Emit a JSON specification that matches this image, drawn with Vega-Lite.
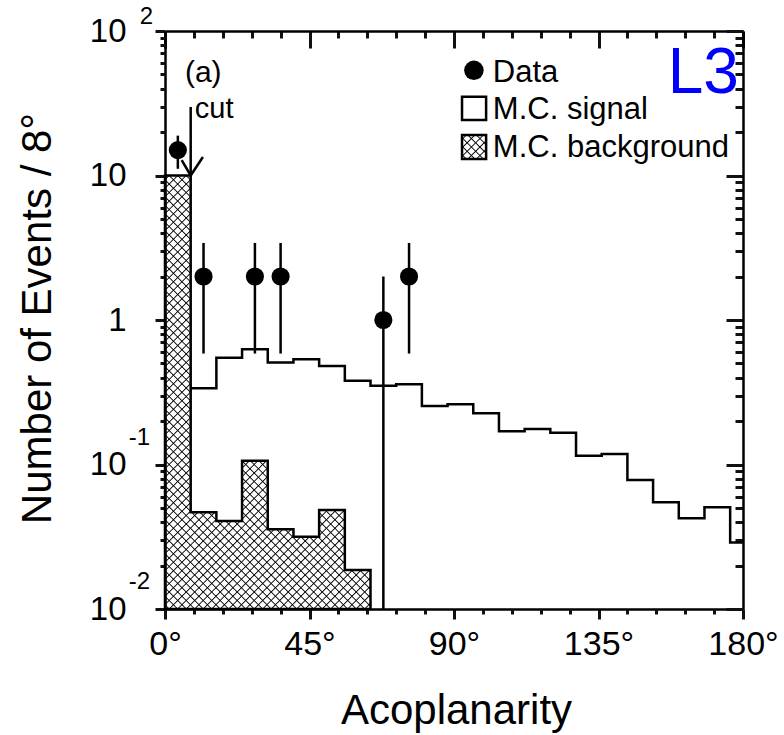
{
"$schema":"https://vega.github.io/schema/vega-lite/v6.json",
"width":578,"height":578,
"autosize":{"type":"none"},
"padding":{"left":165,"top":31,"right":41,"bottom":126},
"background":"white",
"config":{"font":"Liberation Sans","view":{"stroke":null},"axis":{"grid":false,"zindex":1,"domainColor":"black","labelColor":"black","titleColor":"black","domainWidth":2.5,"tickWidth":3,"titleFontWeight":"normal"}},
"datasets":{
"bg":[{"a":0,"n":10},{"a":8,"n":0.0467},{"a":16,"n":0.0406},{"a":24,"n":0.106},{"a":32,"n":0.0356},{"a":40,"n":0.0316},{"a":48,"n":0.0484},{"a":56,"n":0.0186},{"a":64,"n":0.0186}],
"sig":[{"a":8,"n":0.337},{"a":16,"n":0.548},{"a":24,"n":0.627},{"a":32,"n":0.509},{"a":40,"n":0.535},{"a":48,"n":0.481},{"a":56,"n":0.38},{"a":64,"n":0.351},{"a":72,"n":0.359},{"a":80,"n":0.254},{"a":88,"n":0.261},{"a":96,"n":0.226},{"a":104,"n":0.17},{"a":112,"n":0.176},{"a":120,"n":0.166},{"a":128,"n":0.115},{"a":136,"n":0.118},{"a":144,"n":0.078},{"a":152,"n":0.0547},{"a":160,"n":0.0424},{"a":168,"n":0.0506},{"a":176,"n":0.0288},{"a":180,"n":0.0288}],
"obs":[{"a":4,"n":15,"lo":11.13,"hi":18.87},{"a":12,"n":2,"lo":0.586,"hi":3.414},{"a":28,"n":2,"lo":0.586,"hi":3.414},{"a":36,"n":2,"lo":0.586,"hi":3.414},{"a":68,"n":1,"lo":0.01,"hi":2},{"a":76,"n":2,"lo":0.586,"hi":3.414}]
},
"resolve":{"axis":{"x":"independent","y":"independent"}},
"layer":[
{"data":{"name":"bg"},
 "mark":{"type":"area","interpolate":"step-after","opacity":1,"fill":{"gradient":"linear","x1":0,"y1":0,"x2":0.57058,"y2":1.20357,"stops":[
{"offset":0.0046,"color":"#0000"},{"offset":0.0066,"color":"#000"},{"offset":0.0086,"color":"#0000"},
{"offset":0.0179,"color":"#0000"},{"offset":0.0199,"color":"#000"},{"offset":0.0219,"color":"#0000"},
{"offset":0.0312,"color":"#0000"},{"offset":0.0332,"color":"#000"},{"offset":0.0352,"color":"#0000"},
{"offset":0.0445,"color":"#0000"},{"offset":0.0465,"color":"#000"},{"offset":0.0485,"color":"#0000"},
{"offset":0.0578,"color":"#0000"},{"offset":0.0598,"color":"#000"},{"offset":0.0618,"color":"#0000"},
{"offset":0.0711,"color":"#0000"},{"offset":0.0731,"color":"#000"},{"offset":0.0751,"color":"#0000"},
{"offset":0.0844,"color":"#0000"},{"offset":0.0864,"color":"#000"},{"offset":0.0884,"color":"#0000"},
{"offset":0.0977,"color":"#0000"},{"offset":0.0997,"color":"#000"},{"offset":0.1017,"color":"#0000"},
{"offset":0.1110,"color":"#0000"},{"offset":0.1130,"color":"#000"},{"offset":0.1150,"color":"#0000"},
{"offset":0.1243,"color":"#0000"},{"offset":0.1263,"color":"#000"},{"offset":0.1283,"color":"#0000"},
{"offset":0.1376,"color":"#0000"},{"offset":0.1396,"color":"#000"},{"offset":0.1416,"color":"#0000"},
{"offset":0.1509,"color":"#0000"},{"offset":0.1529,"color":"#000"},{"offset":0.1549,"color":"#0000"},
{"offset":0.1642,"color":"#0000"},{"offset":0.1662,"color":"#000"},{"offset":0.1682,"color":"#0000"},
{"offset":0.1775,"color":"#0000"},{"offset":0.1795,"color":"#000"},{"offset":0.1815,"color":"#0000"},
{"offset":0.1908,"color":"#0000"},{"offset":0.1928,"color":"#000"},{"offset":0.1948,"color":"#0000"},
{"offset":0.2041,"color":"#0000"},{"offset":0.2061,"color":"#000"},{"offset":0.2081,"color":"#0000"},
{"offset":0.2174,"color":"#0000"},{"offset":0.2194,"color":"#000"},{"offset":0.2214,"color":"#0000"},
{"offset":0.2307,"color":"#0000"},{"offset":0.2327,"color":"#000"},{"offset":0.2347,"color":"#0000"},
{"offset":0.2440,"color":"#0000"},{"offset":0.2460,"color":"#000"},{"offset":0.2480,"color":"#0000"},
{"offset":0.2573,"color":"#0000"},{"offset":0.2593,"color":"#000"},{"offset":0.2613,"color":"#0000"},
{"offset":0.2706,"color":"#0000"},{"offset":0.2726,"color":"#000"},{"offset":0.2746,"color":"#0000"},
{"offset":0.2839,"color":"#0000"},{"offset":0.2859,"color":"#000"},{"offset":0.2879,"color":"#0000"},
{"offset":0.2972,"color":"#0000"},{"offset":0.2992,"color":"#000"},{"offset":0.3012,"color":"#0000"},
{"offset":0.3105,"color":"#0000"},{"offset":0.3125,"color":"#000"},{"offset":0.3145,"color":"#0000"},
{"offset":0.3238,"color":"#0000"},{"offset":0.3258,"color":"#000"},{"offset":0.3278,"color":"#0000"},
{"offset":0.3371,"color":"#0000"},{"offset":0.3391,"color":"#000"},{"offset":0.3411,"color":"#0000"},
{"offset":0.3504,"color":"#0000"},{"offset":0.3524,"color":"#000"},{"offset":0.3544,"color":"#0000"},
{"offset":0.3637,"color":"#0000"},{"offset":0.3657,"color":"#000"},{"offset":0.3677,"color":"#0000"},
{"offset":0.3770,"color":"#0000"},{"offset":0.3790,"color":"#000"},{"offset":0.3810,"color":"#0000"},
{"offset":0.3903,"color":"#0000"},{"offset":0.3923,"color":"#000"},{"offset":0.3943,"color":"#0000"},
{"offset":0.4036,"color":"#0000"},{"offset":0.4056,"color":"#000"},{"offset":0.4076,"color":"#0000"},
{"offset":0.4169,"color":"#0000"},{"offset":0.4189,"color":"#000"},{"offset":0.4209,"color":"#0000"},
{"offset":0.4302,"color":"#0000"},{"offset":0.4322,"color":"#000"},{"offset":0.4342,"color":"#0000"},
{"offset":0.4435,"color":"#0000"},{"offset":0.4455,"color":"#000"},{"offset":0.4475,"color":"#0000"},
{"offset":0.4568,"color":"#0000"},{"offset":0.4588,"color":"#000"},{"offset":0.4608,"color":"#0000"},
{"offset":0.4701,"color":"#0000"},{"offset":0.4721,"color":"#000"},{"offset":0.4741,"color":"#0000"},
{"offset":0.4834,"color":"#0000"},{"offset":0.4854,"color":"#000"},{"offset":0.4874,"color":"#0000"},
{"offset":0.4967,"color":"#0000"},{"offset":0.4987,"color":"#000"},{"offset":0.5007,"color":"#0000"},
{"offset":0.5100,"color":"#0000"},{"offset":0.5120,"color":"#000"},{"offset":0.5140,"color":"#0000"},
{"offset":0.5233,"color":"#0000"},{"offset":0.5253,"color":"#000"},{"offset":0.5273,"color":"#0000"},
{"offset":0.5366,"color":"#0000"},{"offset":0.5386,"color":"#000"},{"offset":0.5406,"color":"#0000"},
{"offset":0.5499,"color":"#0000"},{"offset":0.5519,"color":"#000"},{"offset":0.5539,"color":"#0000"},
{"offset":0.5632,"color":"#0000"},{"offset":0.5652,"color":"#000"},{"offset":0.5672,"color":"#0000"},
{"offset":0.5765,"color":"#0000"},{"offset":0.5785,"color":"#000"},{"offset":0.5805,"color":"#0000"},
{"offset":0.5898,"color":"#0000"},{"offset":0.5918,"color":"#000"},{"offset":0.5938,"color":"#0000"},
{"offset":0.6031,"color":"#0000"},{"offset":0.6051,"color":"#000"},{"offset":0.6071,"color":"#0000"},
{"offset":0.6164,"color":"#0000"},{"offset":0.6184,"color":"#000"},{"offset":0.6204,"color":"#0000"},
{"offset":0.6297,"color":"#0000"},{"offset":0.6317,"color":"#000"},{"offset":0.6337,"color":"#0000"},
{"offset":0.6430,"color":"#0000"},{"offset":0.6450,"color":"#000"},{"offset":0.6470,"color":"#0000"},
{"offset":0.6563,"color":"#0000"},{"offset":0.6583,"color":"#000"},{"offset":0.6603,"color":"#0000"},
{"offset":0.6696,"color":"#0000"},{"offset":0.6716,"color":"#000"},{"offset":0.6736,"color":"#0000"},
{"offset":0.6829,"color":"#0000"},{"offset":0.6849,"color":"#000"},{"offset":0.6869,"color":"#0000"},
{"offset":0.6962,"color":"#0000"},{"offset":0.6982,"color":"#000"},{"offset":0.7002,"color":"#0000"},
{"offset":0.7095,"color":"#0000"},{"offset":0.7115,"color":"#000"},{"offset":0.7135,"color":"#0000"},
{"offset":0.7228,"color":"#0000"},{"offset":0.7248,"color":"#000"},{"offset":0.7268,"color":"#0000"},
{"offset":0.7361,"color":"#0000"},{"offset":0.7381,"color":"#000"},{"offset":0.7401,"color":"#0000"},
{"offset":0.7494,"color":"#0000"},{"offset":0.7514,"color":"#000"},{"offset":0.7534,"color":"#0000"},
{"offset":0.7627,"color":"#0000"},{"offset":0.7647,"color":"#000"},{"offset":0.7667,"color":"#0000"},
{"offset":0.7760,"color":"#0000"},{"offset":0.7780,"color":"#000"},{"offset":0.7800,"color":"#0000"},
{"offset":0.7893,"color":"#0000"},{"offset":0.7913,"color":"#000"},{"offset":0.7933,"color":"#0000"},
{"offset":0.8026,"color":"#0000"},{"offset":0.8046,"color":"#000"},{"offset":0.8066,"color":"#0000"},
{"offset":0.8159,"color":"#0000"},{"offset":0.8179,"color":"#000"},{"offset":0.8199,"color":"#0000"},
{"offset":0.8292,"color":"#0000"},{"offset":0.8312,"color":"#000"},{"offset":0.8332,"color":"#0000"},
{"offset":0.8425,"color":"#0000"},{"offset":0.8445,"color":"#000"},{"offset":0.8465,"color":"#0000"},
{"offset":0.8558,"color":"#0000"},{"offset":0.8578,"color":"#000"},{"offset":0.8598,"color":"#0000"},
{"offset":0.8691,"color":"#0000"},{"offset":0.8711,"color":"#000"},{"offset":0.8731,"color":"#0000"},
{"offset":0.8824,"color":"#0000"},{"offset":0.8844,"color":"#000"},{"offset":0.8864,"color":"#0000"},
{"offset":0.8957,"color":"#0000"},{"offset":0.8977,"color":"#000"},{"offset":0.8997,"color":"#0000"},
{"offset":0.9090,"color":"#0000"},{"offset":0.9110,"color":"#000"},{"offset":0.9130,"color":"#0000"},
{"offset":0.9223,"color":"#0000"},{"offset":0.9243,"color":"#000"},{"offset":0.9263,"color":"#0000"},
{"offset":0.9356,"color":"#0000"},{"offset":0.9376,"color":"#000"},{"offset":0.9396,"color":"#0000"},
{"offset":0.9489,"color":"#0000"},{"offset":0.9509,"color":"#000"},{"offset":0.9529,"color":"#0000"},
{"offset":0.9622,"color":"#0000"},{"offset":0.9642,"color":"#000"},{"offset":0.9662,"color":"#0000"},
{"offset":0.9755,"color":"#0000"},{"offset":0.9775,"color":"#000"},{"offset":0.9795,"color":"#0000"},
{"offset":0.9888,"color":"#0000"},{"offset":0.9908,"color":"#000"},{"offset":0.9928,"color":"#0000"}]}},
 "encoding":{
  "x":{"field":"a","type":"quantitative","scale":{"domain":[0,180],"nice":false,"zero":false},
   "axis":{"orient":"bottom","values":[0,45,90,135,180],"labelExpr":"datum.value + '°'","ticks":true,"tickColor":"#111111","tickSize":10,"labelFontSize":34,"labelPadding":8,"labelFlush":false,"labelOverlap":false,"title":"Acoplanarity","titleFontSize":42,"titleBaseline":"alphabetic","titleAlign":"center","titleX":291,"titleY":114}},
  "y":{"field":"n","type":"quantitative","scale":{"type":"log","domain":[0.01,100],"nice":false},
   "axis":{"orient":"left","values":[0.01,0.1,1,10,100],"labelExpr":"datum.value==1 ? '1' : datum.value==10 ? '10' : datum.value==100 ? '10\u2009' : '10\u2009\u2009'","ticks":true,"tickColor":"#111111","tickSize":10,"labelFontSize":33,"labelPadding":29,"labelFlush":false,"labelOverlap":false,"title":"Number of Events / 8°","titleFontSize":42,"titleBaseline":"alphabetic","titleAngle":-90,"titleAlign":"center","titleX":-115,"titleY":287}},
  "y2":{"datum":0.01}}},
{"data":{"name":"bg"},
 "mark":{"type":"area","interpolate":"step-after","opacity":1,"stroke":"black","strokeWidth":2.5,"fill":{"gradient":"linear","x1":0,"y1":1,"x2":0.57058,"y2":-0.20357,"stops":[
{"offset":0.0046,"color":"#0000"},{"offset":0.0066,"color":"#000"},{"offset":0.0086,"color":"#0000"},
{"offset":0.0179,"color":"#0000"},{"offset":0.0199,"color":"#000"},{"offset":0.0219,"color":"#0000"},
{"offset":0.0312,"color":"#0000"},{"offset":0.0332,"color":"#000"},{"offset":0.0352,"color":"#0000"},
{"offset":0.0445,"color":"#0000"},{"offset":0.0465,"color":"#000"},{"offset":0.0485,"color":"#0000"},
{"offset":0.0578,"color":"#0000"},{"offset":0.0598,"color":"#000"},{"offset":0.0618,"color":"#0000"},
{"offset":0.0711,"color":"#0000"},{"offset":0.0731,"color":"#000"},{"offset":0.0751,"color":"#0000"},
{"offset":0.0844,"color":"#0000"},{"offset":0.0864,"color":"#000"},{"offset":0.0884,"color":"#0000"},
{"offset":0.0977,"color":"#0000"},{"offset":0.0997,"color":"#000"},{"offset":0.1017,"color":"#0000"},
{"offset":0.1110,"color":"#0000"},{"offset":0.1130,"color":"#000"},{"offset":0.1150,"color":"#0000"},
{"offset":0.1243,"color":"#0000"},{"offset":0.1263,"color":"#000"},{"offset":0.1283,"color":"#0000"},
{"offset":0.1376,"color":"#0000"},{"offset":0.1396,"color":"#000"},{"offset":0.1416,"color":"#0000"},
{"offset":0.1509,"color":"#0000"},{"offset":0.1529,"color":"#000"},{"offset":0.1549,"color":"#0000"},
{"offset":0.1642,"color":"#0000"},{"offset":0.1662,"color":"#000"},{"offset":0.1682,"color":"#0000"},
{"offset":0.1775,"color":"#0000"},{"offset":0.1795,"color":"#000"},{"offset":0.1815,"color":"#0000"},
{"offset":0.1908,"color":"#0000"},{"offset":0.1928,"color":"#000"},{"offset":0.1948,"color":"#0000"},
{"offset":0.2041,"color":"#0000"},{"offset":0.2061,"color":"#000"},{"offset":0.2081,"color":"#0000"},
{"offset":0.2174,"color":"#0000"},{"offset":0.2194,"color":"#000"},{"offset":0.2214,"color":"#0000"},
{"offset":0.2307,"color":"#0000"},{"offset":0.2327,"color":"#000"},{"offset":0.2347,"color":"#0000"},
{"offset":0.2440,"color":"#0000"},{"offset":0.2460,"color":"#000"},{"offset":0.2480,"color":"#0000"},
{"offset":0.2573,"color":"#0000"},{"offset":0.2593,"color":"#000"},{"offset":0.2613,"color":"#0000"},
{"offset":0.2706,"color":"#0000"},{"offset":0.2726,"color":"#000"},{"offset":0.2746,"color":"#0000"},
{"offset":0.2839,"color":"#0000"},{"offset":0.2859,"color":"#000"},{"offset":0.2879,"color":"#0000"},
{"offset":0.2972,"color":"#0000"},{"offset":0.2992,"color":"#000"},{"offset":0.3012,"color":"#0000"},
{"offset":0.3105,"color":"#0000"},{"offset":0.3125,"color":"#000"},{"offset":0.3145,"color":"#0000"},
{"offset":0.3238,"color":"#0000"},{"offset":0.3258,"color":"#000"},{"offset":0.3278,"color":"#0000"},
{"offset":0.3371,"color":"#0000"},{"offset":0.3391,"color":"#000"},{"offset":0.3411,"color":"#0000"},
{"offset":0.3504,"color":"#0000"},{"offset":0.3524,"color":"#000"},{"offset":0.3544,"color":"#0000"},
{"offset":0.3637,"color":"#0000"},{"offset":0.3657,"color":"#000"},{"offset":0.3677,"color":"#0000"},
{"offset":0.3770,"color":"#0000"},{"offset":0.3790,"color":"#000"},{"offset":0.3810,"color":"#0000"},
{"offset":0.3903,"color":"#0000"},{"offset":0.3923,"color":"#000"},{"offset":0.3943,"color":"#0000"},
{"offset":0.4036,"color":"#0000"},{"offset":0.4056,"color":"#000"},{"offset":0.4076,"color":"#0000"},
{"offset":0.4169,"color":"#0000"},{"offset":0.4189,"color":"#000"},{"offset":0.4209,"color":"#0000"},
{"offset":0.4302,"color":"#0000"},{"offset":0.4322,"color":"#000"},{"offset":0.4342,"color":"#0000"},
{"offset":0.4435,"color":"#0000"},{"offset":0.4455,"color":"#000"},{"offset":0.4475,"color":"#0000"},
{"offset":0.4568,"color":"#0000"},{"offset":0.4588,"color":"#000"},{"offset":0.4608,"color":"#0000"},
{"offset":0.4701,"color":"#0000"},{"offset":0.4721,"color":"#000"},{"offset":0.4741,"color":"#0000"},
{"offset":0.4834,"color":"#0000"},{"offset":0.4854,"color":"#000"},{"offset":0.4874,"color":"#0000"},
{"offset":0.4967,"color":"#0000"},{"offset":0.4987,"color":"#000"},{"offset":0.5007,"color":"#0000"},
{"offset":0.5100,"color":"#0000"},{"offset":0.5120,"color":"#000"},{"offset":0.5140,"color":"#0000"},
{"offset":0.5233,"color":"#0000"},{"offset":0.5253,"color":"#000"},{"offset":0.5273,"color":"#0000"},
{"offset":0.5366,"color":"#0000"},{"offset":0.5386,"color":"#000"},{"offset":0.5406,"color":"#0000"},
{"offset":0.5499,"color":"#0000"},{"offset":0.5519,"color":"#000"},{"offset":0.5539,"color":"#0000"},
{"offset":0.5632,"color":"#0000"},{"offset":0.5652,"color":"#000"},{"offset":0.5672,"color":"#0000"},
{"offset":0.5765,"color":"#0000"},{"offset":0.5785,"color":"#000"},{"offset":0.5805,"color":"#0000"},
{"offset":0.5898,"color":"#0000"},{"offset":0.5918,"color":"#000"},{"offset":0.5938,"color":"#0000"},
{"offset":0.6031,"color":"#0000"},{"offset":0.6051,"color":"#000"},{"offset":0.6071,"color":"#0000"},
{"offset":0.6164,"color":"#0000"},{"offset":0.6184,"color":"#000"},{"offset":0.6204,"color":"#0000"},
{"offset":0.6297,"color":"#0000"},{"offset":0.6317,"color":"#000"},{"offset":0.6337,"color":"#0000"},
{"offset":0.6430,"color":"#0000"},{"offset":0.6450,"color":"#000"},{"offset":0.6470,"color":"#0000"},
{"offset":0.6563,"color":"#0000"},{"offset":0.6583,"color":"#000"},{"offset":0.6603,"color":"#0000"},
{"offset":0.6696,"color":"#0000"},{"offset":0.6716,"color":"#000"},{"offset":0.6736,"color":"#0000"},
{"offset":0.6829,"color":"#0000"},{"offset":0.6849,"color":"#000"},{"offset":0.6869,"color":"#0000"},
{"offset":0.6962,"color":"#0000"},{"offset":0.6982,"color":"#000"},{"offset":0.7002,"color":"#0000"},
{"offset":0.7095,"color":"#0000"},{"offset":0.7115,"color":"#000"},{"offset":0.7135,"color":"#0000"},
{"offset":0.7228,"color":"#0000"},{"offset":0.7248,"color":"#000"},{"offset":0.7268,"color":"#0000"}]}},
 "encoding":{
  "x":{"field":"a","type":"quantitative","axis":{"orient":"top","values":[0,45,90,135,180],"offset":-17,"ticks":true,"tickColor":"#111111","tickSize":17,"labels":false,"domain":false,"title":null}},
  "y":{"field":"n","type":"quantitative","axis":{"orient":"right","values":[0.01,0.1,1,10,100],"offset":-17,"ticks":true,"tickColor":"#111111","tickSize":17,"labels":false,"domain":false,"title":null}},
  "y2":{"datum":0.01}}},
{"data":{"name":"sig"},
 "mark":{"type":"line","interpolate":"step-after","color":"black","strokeWidth":2.5},
 "encoding":{
  "x":{"field":"a","type":"quantitative","axis":{"orient":"bottom","values":[9,18,27,36,54,63,72,81,99,108,117,126,144,153,162,171],"ticks":true,"tickColor":"#111111","tickSize":5,"labels":false,"domain":false,"title":null}},
  "y":{"field":"n","type":"quantitative","axis":{"orient":"left","values":[0.02,0.03,0.04,0.05,0.06,0.07,0.08,0.09,0.2,0.3,0.4,0.5,0.6,0.7,0.8,0.9,2,3,4,5,6,7,8,9,20,30,40,50,60,70,80,90],"ticks":true,"tickColor":"#111111","tickSize":5,"labels":false,"domain":false,"title":null}}}},
{"data":{"name":"obs"},
 "mark":{"type":"rule","color":"black","strokeWidth":2.5},
 "encoding":{
  "x":{"field":"a","type":"quantitative","axis":{"orient":"top","values":[9,18,27,36,54,63,72,81,99,108,117,126,144,153,162,171],"offset":-7,"ticks":true,"tickColor":"#111111","tickSize":7,"labels":false,"domain":false,"title":null}},
  "y":{"field":"lo","type":"quantitative","axis":{"orient":"right","values":[0.02,0.03,0.04,0.05,0.06,0.07,0.08,0.09,0.2,0.3,0.4,0.5,0.6,0.7,0.8,0.9,2,3,4,5,6,7,8,9,20,30,40,50,60,70,80,90],"offset":-8,"ticks":true,"tickColor":"#111111","tickSize":8,"labels":false,"domain":false,"title":null}},
  "y2":{"field":"hi"}}},
{"data":{"name":"obs"},
 "mark":{"type":"point","filled":true,"color":"black","opacity":1,"size":330},
 "encoding":{
  "x":{"field":"a","type":"quantitative","axis":{"orient":"top","ticks":false,"labels":false,"domain":true,"title":null}},
  "y":{"field":"n","type":"quantitative","axis":{"orient":"right","ticks":false,"labels":false,"domain":true,"title":null}}}},
{"data":{"values":[{}]},"mark":{"type":"rule","color":"black","strokeWidth":2.5},
 "encoding":{"x":{"datum":8,"type":"quantitative","axis":null},"y":{"datum":10,"type":"quantitative","axis":null},"y2":{"datum":29.8}}},
{"data":{"values":[{}]},"mark":{"type":"rule","color":"black","strokeWidth":2.5},
 "encoding":{"x":{"datum":8,"type":"quantitative","axis":null},"x2":{"datum":11.8},"y":{"datum":10,"type":"quantitative","axis":null},"y2":{"datum":13.43}}},
{"data":{"values":[{}]},"mark":{"type":"rule","color":"black","strokeWidth":2.5},
 "encoding":{"x":{"datum":8,"type":"quantitative","axis":null},"x2":{"datum":5.2},"y":{"datum":10,"type":"quantitative","axis":null},"y2":{"datum":12.8}}},
{"data":{"values":[{}]},"mark":{"type":"text","text":"(a)","align":"left","baseline":"alphabetic","fontSize":30,"color":"black"},
 "encoding":{"x":{"datum":6.2,"type":"quantitative","axis":null},"y":{"datum":44.4,"type":"quantitative","axis":null}}},
{"data":{"values":[{}]},"mark":{"type":"text","text":"cut","align":"left","baseline":"alphabetic","fontSize":29,"color":"black"},
 "encoding":{"x":{"datum":9.3,"type":"quantitative","axis":null},"y":{"datum":25,"type":"quantitative","axis":null}}},
{"data":{"values":[{}]},"mark":{"type":"text","text":"L3","align":"right","baseline":"alphabetic","fontSize":64,"color":"#0000ff"},
 "encoding":{"x":{"datum":178.7,"type":"quantitative","axis":null},"y":{"datum":37.2,"type":"quantitative","axis":null}}},
{"data":{"values":[{}]},"mark":{"type":"point","shape":"circle","filled":true,"color":"black","opacity":1,"size":380},
 "encoding":{"x":{"datum":96.2,"type":"quantitative","axis":null},"y":{"datum":53.4,"type":"quantitative","axis":null}}},
{"data":{"values":[{}]},"mark":{"type":"rect","fill":"white","stroke":"black","strokeWidth":2.5},
 "encoding":{"x":{"datum":92.5,"type":"quantitative","axis":null},"x2":{"datum":100},"y":{"datum":35.1,"type":"quantitative","axis":null},"y2":{"datum":24.2}}},
{"data":{"values":[{}]},"mark":{"type":"rect","stroke":null,"fill":{"gradient":"linear","x1":0,"y1":0,"x2":1,"y2":1,"stops":[
{"offset":0.063,"color":"#0000"},{"offset":0.09,"color":"#000"},{"offset":0.117,"color":"#0000"},
{"offset":0.24,"color":"#0000"},{"offset":0.267,"color":"#000"},{"offset":0.294,"color":"#0000"},
{"offset":0.417,"color":"#0000"},{"offset":0.444,"color":"#000"},{"offset":0.471,"color":"#0000"},
{"offset":0.594,"color":"#0000"},{"offset":0.621,"color":"#000"},{"offset":0.648,"color":"#0000"},
{"offset":0.771,"color":"#0000"},{"offset":0.798,"color":"#000"},{"offset":0.825,"color":"#0000"},
{"offset":0.948,"color":"#0000"},{"offset":0.975,"color":"#000"},{"offset":1,"color":"#0000"}]}},
 "encoding":{"x":{"datum":92.5,"type":"quantitative","axis":null},"x2":{"datum":100},"y":{"datum":19.06,"type":"quantitative","axis":null},"y2":{"datum":13.0}}},
{"data":{"values":[{}]},"mark":{"type":"rect","stroke":"black","strokeWidth":2.5,"fill":{"gradient":"linear","x1":0,"y1":1,"x2":1,"y2":0,"stops":[
{"offset":0.063,"color":"#0000"},{"offset":0.09,"color":"#000"},{"offset":0.117,"color":"#0000"},
{"offset":0.24,"color":"#0000"},{"offset":0.267,"color":"#000"},{"offset":0.294,"color":"#0000"},
{"offset":0.417,"color":"#0000"},{"offset":0.444,"color":"#000"},{"offset":0.471,"color":"#0000"},
{"offset":0.594,"color":"#0000"},{"offset":0.621,"color":"#000"},{"offset":0.648,"color":"#0000"},
{"offset":0.771,"color":"#0000"},{"offset":0.798,"color":"#000"},{"offset":0.825,"color":"#0000"},
{"offset":0.948,"color":"#0000"},{"offset":0.975,"color":"#000"},{"offset":1,"color":"#0000"}]}},
 "encoding":{"x":{"datum":92.5,"type":"quantitative","axis":null},"x2":{"datum":100},"y":{"datum":19.06,"type":"quantitative","axis":null},"y2":{"datum":13.0}}},
{"data":{"values":[{}]},"mark":{"type":"text","text":"Data","align":"left","baseline":"alphabetic","fontSize":31,"color":"black"},
 "encoding":{"x":{"datum":102.1,"type":"quantitative","axis":null},"y":{"datum":44.4,"type":"quantitative","axis":null}}},
{"data":{"values":[{}]},"mark":{"type":"text","text":"M.C. signal","align":"left","baseline":"alphabetic","fontSize":31,"color":"black"},
 "encoding":{"x":{"datum":102.1,"type":"quantitative","axis":null},"y":{"datum":24.6,"type":"quantitative","axis":null}}},
{"data":{"values":[{}]},"mark":{"type":"text","text":"M.C. background","align":"left","baseline":"alphabetic","fontSize":31,"color":"black"},
 "encoding":{"x":{"datum":102.1,"type":"quantitative","axis":null},"y":{"datum":13.43,"type":"quantitative","axis":null}}},
{"data":{"values":[{}]},"mark":{"type":"text","text":"2","align":"right","baseline":"middle","fontSize":24,"dx":-12,"dy":-14,"color":"black"},
 "encoding":{"x":{"datum":0,"type":"quantitative","axis":null},"y":{"datum":100,"type":"quantitative","axis":null}}},
{"data":{"values":[{}]},"mark":{"type":"text","text":"-1","align":"right","baseline":"middle","fontSize":24,"dx":-15,"dy":-27,"color":"black"},
 "encoding":{"x":{"datum":0,"type":"quantitative","axis":null},"y":{"datum":0.1,"type":"quantitative","axis":null}}},
{"data":{"values":[{}]},"mark":{"type":"text","text":"-2","align":"right","baseline":"middle","fontSize":24,"dx":-15,"dy":-27,"color":"black"},
 "encoding":{"x":{"datum":0,"type":"quantitative","axis":null},"y":{"datum":0.01,"type":"quantitative","axis":null}}}
]
}
